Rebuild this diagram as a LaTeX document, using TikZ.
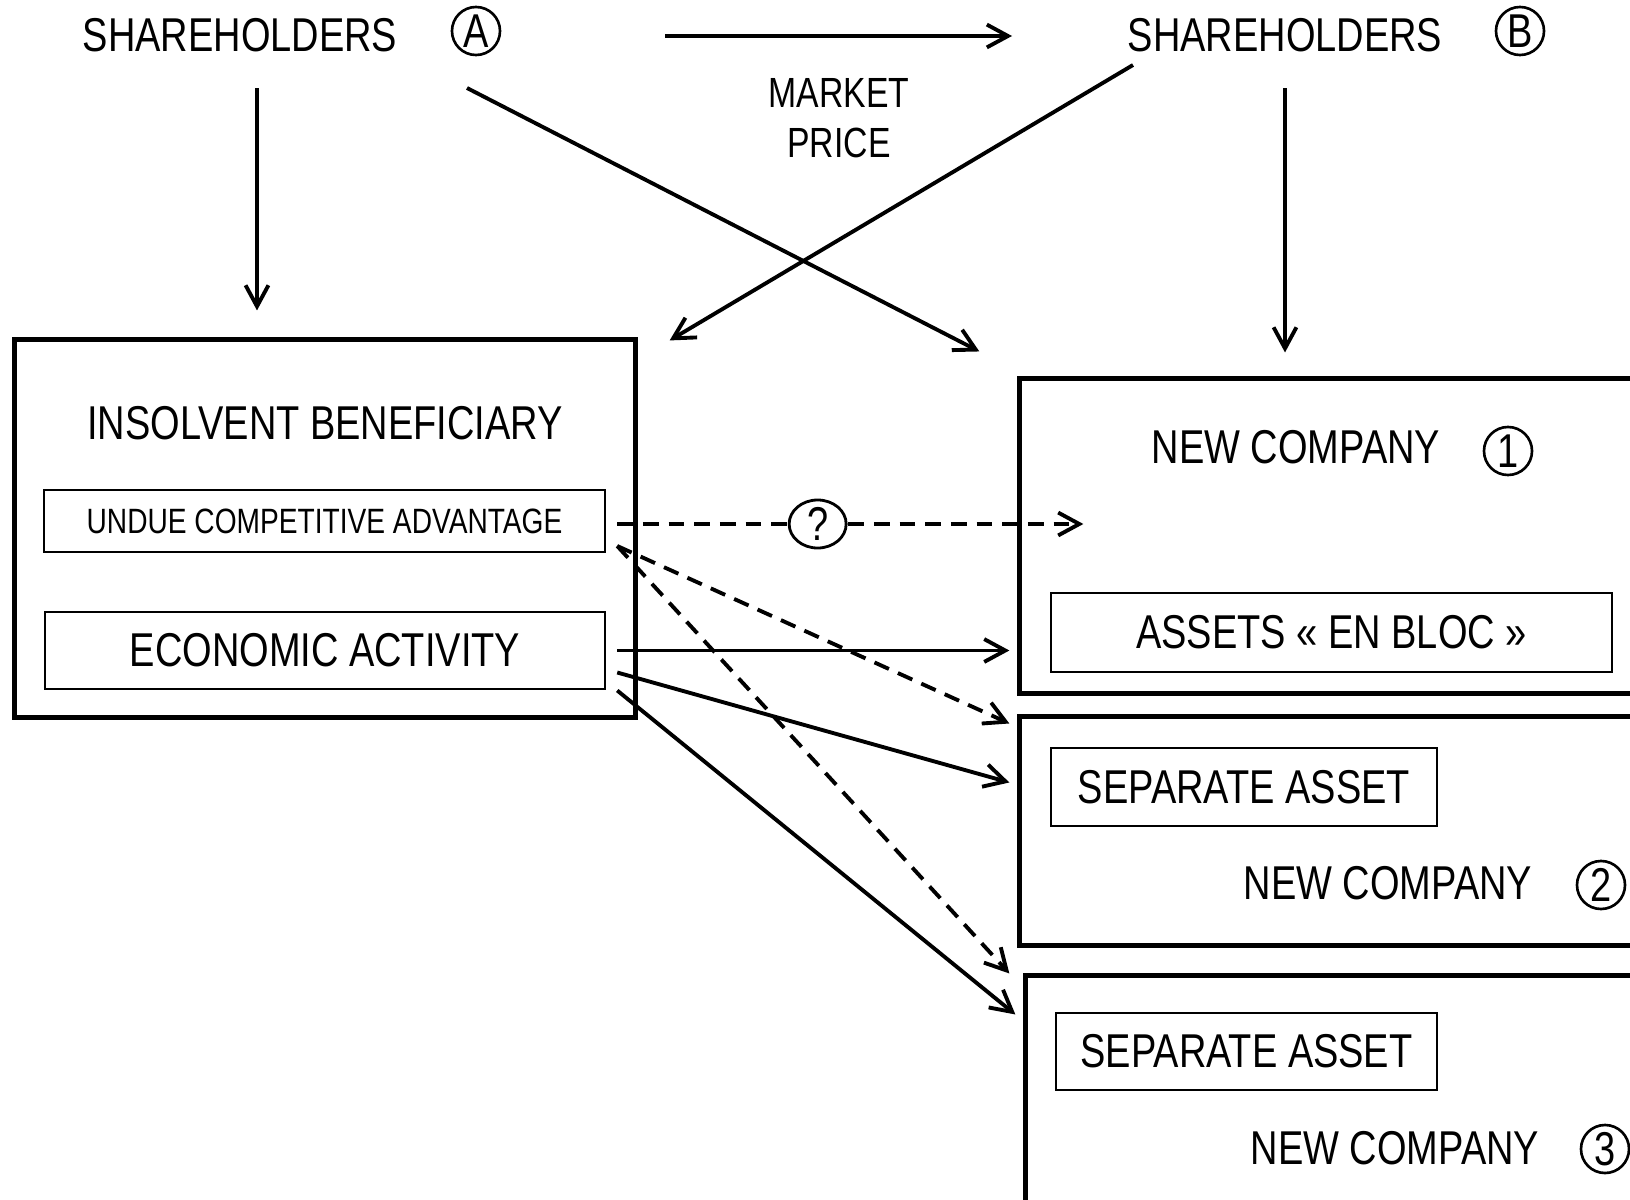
\documentclass[tikz,border=0pt]{standalone}
\usepackage{fontspec}
\setmainfont{Liberation Sans}[FakeStretch=0.8]
\usepackage{tikz}
\usetikzlibrary{calc,arrows.meta,shapes.geometric}
\tikzset{
  bigbox/.style={draw=black, line width=1.4pt, inner sep=0pt},
  inbox/.style={draw=black, line width=0.6pt, inner sep=0pt},
  lab/.style={font=\fontsize{13.5pt}{16pt}\selectfont, inner sep=0pt},
  labs/.style={font=\fontsize{10pt}{12pt}\selectfont, inner sep=0pt},
  num/.style={circle, draw=black, line width=0.75pt, minimum size=0.48cm, inner sep=0pt,
    font=\fontsize{13.5pt}{16pt}\selectfont},
  qmark/.style={ellipse, draw=black, solid, fill=white, line width=0.8pt, minimum width=0.57cm,
    minimum height=0.48cm, inner sep=0pt, font=\fontsize{13.5pt}{16pt}\selectfont},
  arr/.style={draw=black, line width=1.1pt, -{Straight Barb[length=6pt,width=6.5pt]}},
  dsh/.style={dash pattern=on 4.5pt off 2.8pt},
}

\begin{document}
\begin{tikzpicture}[x=0.01cm, y=-0.01cm]
  \useasboundingbox (0,0) rectangle (1630,1200);
  \clip (0,0) rectangle (1630,1200);

  % shareholders on top
  \node[lab] (shA) at (240,35) {SHAREHOLDERS};
  \node[num] (circA) at (476,31) {A};
  \node[lab] (shB) at (1285,35) {SHAREHOLDERS};
  \node[num] (circB) at (1520,31) {B};
  \node[lab, font=\fontsize{12pt}{14.2pt}\selectfont, align=center] (mkt) at (839,118) {MARKET\\PRICE};

  % insolvent beneficiary
  \node[bigbox, minimum width=6.2cm, minimum height=3.77cm] (ib) at (325,528.5) {};
  \node[lab] at (325,423) {INSOLVENT BENEFICIARY};
  \node[inbox, labs, minimum width=5.61cm, minimum height=0.62cm] (undue) at (324.5,521) {UNDUE COMPETITIVE ADVANTAGE};
  \node[inbox, lab, minimum width=5.6cm, minimum height=0.77cm] (eco) at (325,650.5) {ECONOMIC ACTIVITY};

  % new companies
  \node[bigbox, minimum width=6.4cm, minimum height=3.14cm] (nc1) at (1340,536) {};
  \node[lab] at (1296,447) {NEW COMPANY};
  \node[num] at (1508,451) {1};
  \node[inbox, lab, minimum width=5.61cm, minimum height=0.79cm] (assets) at (1331.5,632.5) {ASSETS « EN BLOC »};

  \node[bigbox, minimum width=6.4cm, minimum height=2.28cm] (nc2) at (1340,831) {};
  \node[inbox, lab, minimum width=3.86cm, minimum height=0.78cm] (sa2) at (1244,787) {SEPARATE ASSET};
  \node[lab] at (1388,883) {NEW COMPANY};
  \node[num] at (1601,885) {2};

  \node[bigbox, minimum width=6.4cm, minimum height=2.64cm] (nc3) at (1346,1108) {};
  \node[inbox, lab, minimum width=3.81cm, minimum height=0.77cm] (sa3) at (1246.5,1051.5) {SEPARATE ASSET};
  \node[lab] at (1395,1148) {NEW COMPANY};
  \node[num] at (1605,1149) {3};

  % shareholders arrows
  \draw[arr] ($(circA)+(189,5)$) -- ($(shB)+(-273,1)$);
  \draw[arr] ($(shA)+(17,53)$) -- ($(ib.north)+(-68,-27)$);
  \draw[arr] ($(shA)+(227,53)$) -- ($(nc1.north west)+(-38,-25)$);
  \draw[arr] ($(shB)+(-152,30)$) -- ($(ib.north east)+(32,3)$);
  \draw[arr] ($(shB)+(0,53)$) -- ($(shB |- nc1.north)+(0,-24)$);

  % transfers
  \draw[arr, dsh] ($(undue.east)+(11,3)$) -- node[qmark, pos=0.43] {?} ($(nc1.west)+(66,-12)$);
  \draw[arr, dsh] ($(undue.east)+(11,25)$) -- ($(nc2.north west)+(-8,9)$);
  \draw[arr, dsh] ($(undue.east)+(11,25)$) -- ($(nc3.north west)+(-14,0)$);
  \draw[arr] ($(eco.east)+(11,0)$) -- ($(nc1.west |- eco.east)+(-8,0)$);
  \draw[arr] ($(eco.east)+(11,22)$) -- ($(nc2.north west)+(-8,68)$);
  \draw[arr] ($(eco.east)+(11,40)$) -- ($(nc3.north west)+(-8,41)$);
\end{tikzpicture}
\end{document}
